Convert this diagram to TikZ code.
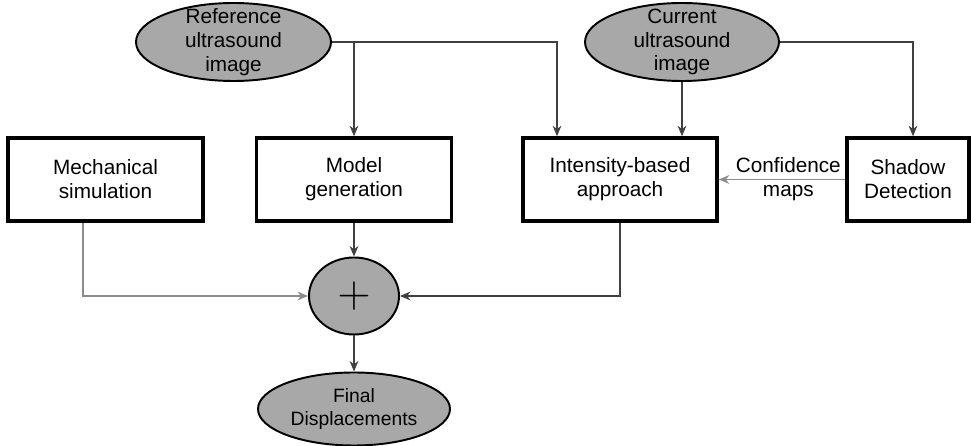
\documentclass[tikz,border=0pt]{standalone}
\usepackage{fix-cm}
\usepackage{fontspec}
\setmainfont{Liberation Sans}
\usetikzlibrary{shapes, arrows.meta, positioning, calc}
\definecolor{blobgray}{RGB}{168,168,168}

\begin{document}
\begin{tikzpicture} [-> , >= {Stealth[length=6pt, width=5pt]}, line width = 0.6pt, font=\fontsize{11.8}{13.6}\selectfont,
  box/.style = {draw, -, line width=2pt, minimum width=3.9cm, minimum height=1.66cm, align=center},
  blob/.style = {draw, -, ellipse, fill=blobgray, line width=1.1pt, inner sep=-6pt, align=center},
  link/.style = {draw=black!75},
  faint/.style = {draw=black!45}]

\useasboundingbox (0,0) rectangle (19.42,8.92);

\node [blob, minimum width=3.9cm, minimum height=1.56cm] (ref) at (4.67,8.08) {Reference\\ultrasound\\image};
\node [blob, minimum width=3.88cm, minimum height=1.56cm] (cur) at (13.64,8.08) {Current\\ultrasound\\image};

\node [box] (mech) at (2.11,5.33) {Mechanical\\simulation};
\node [box] (model) at (7.08,5.33) {Model\\generation};
\node [box, minimum width=3.88cm] (intens) at (12.4,5.33) {Intensity-based\\approach};
\node [box, minimum width=2.44cm] (shadow) at (18.16,5.33) {Shadow\\Detection};

\node [blob, minimum width=1.8cm, minimum height=1.54cm, font=\fontsize{26}{26}\selectfont] (plus) at (7.08,3.0) {$+$};
\node [blob, minimum width=3.84cm, minimum height=1.46cm, font=\fontsize{11}{13}\selectfont] (final) at (7.08,0.74) {Final\\Displacements};

% inputs from the images
\coordinate (refdrop) at (11.14,8.08);
\coordinate (curdrop) at (18.26,8.08);
\draw [link] (ref.east) -| (intens.north -| refdrop);
\draw [link] (ref.east -| model.north) -- (model.north);
\draw [link] (cur.south) -- (cur.south |- intens.north);
\draw [link] (cur.east) -| (shadow.north -| curdrop);

\draw [faint] (shadow.west) -- node [pos=0.45, align=center] (conf) {Confidence\\maps} (intens.east);

% combination
\draw [faint] ([xshift=-0.45cm]mech.south) |- (plus.west);
\draw [link] (model.south) -- (plus.north);
\draw [link] (intens.south) |- (plus.east);
\draw [link] (plus.south) -- (final.north);

\end{tikzpicture}
\end{document}
